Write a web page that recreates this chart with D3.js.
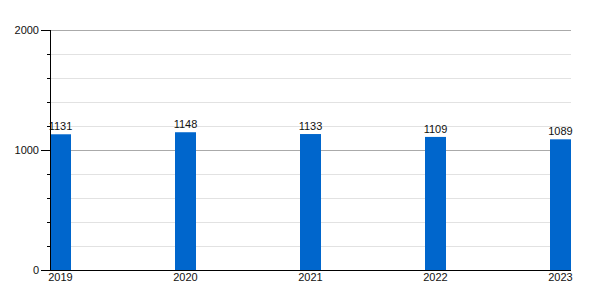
<!DOCTYPE html>
<html>
<head>
<meta charset="utf-8">
<script src="https://cdn.jsdelivr.net/npm/d3@7"></script>
<style>
  body { margin: 0; background: #fff; }
  svg text { font-family: "Liberation Sans", Arial, sans-serif; font-size: 11px; fill: #111; }
</style>
</head>
<body>
<svg id="chart" width="600" height="300"></svg>
<script>
// chart data
var years = ["2019", "2020", "2021", "2022", "2023"];
var values = [1131, 1148, 1133, 1109, 1089];
var majorTicks = [0, 1000, 2000];
var minorTicks = [200, 400, 600, 800, 1200, 1400, 1600, 1800];

var svg = d3.select("#chart");
// note: "top" is taken by window.top, so use plot* names
var plotLeft = 50, plotRight = 571, plotTop = 30, plotBottom = 270;
var barW = 21;

var y = d3.scaleLinear().domain([0, 2000]).range([plotBottom, plotTop]);
var x = d3.scalePoint().domain(years).range([plotLeft + barW / 2, plotRight - barW / 2]);

function py(d) { return Math.round(y(d)) + 0.5; }

// minor grid lines
svg.selectAll(".minor").data(minorTicks).enter().append("line")
    .attr("x1", plotLeft).attr("x2", plotRight)
    .attr("y1", py).attr("y2", py)
    .attr("stroke", "#e2e2e2");

// major grid lines
svg.selectAll(".major").data(majorTicks.filter(function(d) { return d > 0; })).enter().append("line")
    .attr("x1", plotLeft).attr("x2", plotRight)
    .attr("y1", py).attr("y2", py)
    .attr("stroke", "#aaaaaa");

// bars
svg.selectAll("rect").data(values).enter().append("rect")
    .attr("x", function(d, i) { return x(years[i]) - barW / 2; })
    .attr("y", function(d) { return y(d); })
    .attr("width", barW)
    .attr("height", function(d) { return y(0) - y(d); })
    .attr("fill", "#0066cc");

// value labels
svg.selectAll(".val").data(values).enter().append("text")
    .attr("x", function(d, i) { return x(years[i]); })
    .attr("y", function(d) { return y(d) - 4; })
    .attr("text-anchor", "middle")
    .text(function(d) { return d; });

// x labels
svg.selectAll(".yr").data(years).enter().append("text")
    .attr("x", function(d) { return x(d); })
    .attr("y", plotBottom + 11)
    .attr("text-anchor", "middle")
    .text(function(d) { return d; });

// axis lines
svg.append("line").attr("x1", plotLeft + 0.5).attr("x2", plotLeft + 0.5)
    .attr("y1", plotTop).attr("y2", plotBottom + 1).attr("stroke", "#000");
svg.append("line").attr("x1", plotLeft).attr("x2", plotRight)
    .attr("y1", plotBottom + 0.5).attr("y2", plotBottom + 0.5).attr("stroke", "#000");

// ticks
svg.selectAll(".mt").data(majorTicks).enter().append("line")
    .attr("x1", plotLeft - 9).attr("x2", plotLeft)
    .attr("y1", py).attr("y2", py)
    .attr("stroke", "#000");
svg.selectAll(".nt").data(minorTicks).enter().append("line")
    .attr("x1", plotLeft - 3).attr("x2", plotLeft)
    .attr("y1", py).attr("y2", py)
    .attr("stroke", "#000");

// y labels
svg.selectAll(".yl").data(majorTicks).enter().append("text")
    .attr("x", plotLeft - 11)
    .attr("y", function(d) { return y(d) + 4; })
    .attr("text-anchor", "end")
    .text(function(d) { return d; });
</script>
</body>
</html>
